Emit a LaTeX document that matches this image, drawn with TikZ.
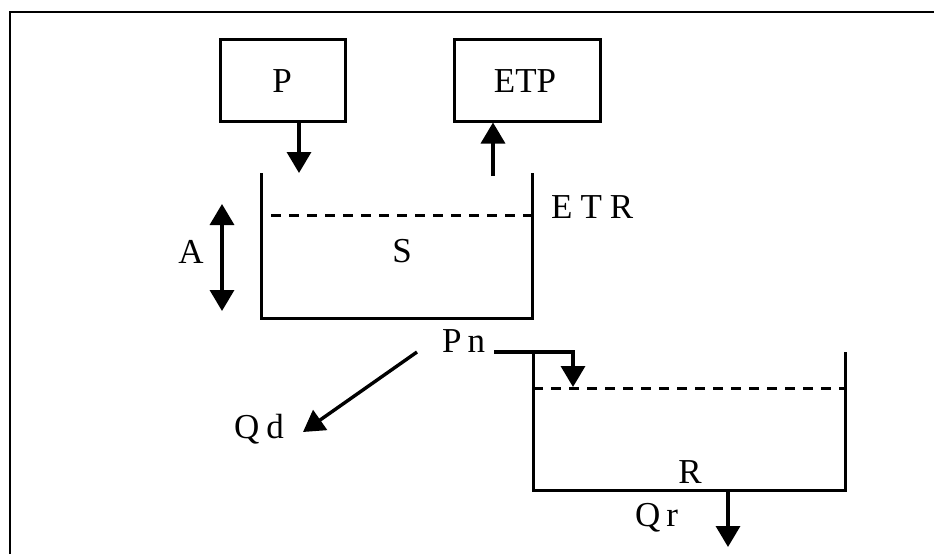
\documentclass[tikz,border=0pt]{standalone}
\usepackage{fontspec}
\setmainfont{Liberation Serif}
\usetikzlibrary{arrows.meta}
\begin{document}
\begin{tikzpicture}[x=1pt,y=-1pt,
  wall/.style={line width=3pt},
  boxnode/.style={draw,line width=3pt,inner sep=0pt},
  arr/.style={line width=3.4pt,-{Triangle[width=24pt,length=21pt]}},
  arrtwo/.style={line width=3.4pt,{Triangle[width=24pt,length=21pt]}-{Triangle[width=24pt,length=21pt]}},
  level/.style={line width=3pt,dash pattern=on 10pt off 8pt},
  lbl/.style={font=\fontsize{35}{38}\selectfont,inner sep=0pt,anchor=base}]
\useasboundingbox (0,0) rectangle (934,554);
% frame
\draw[line width=2.4pt] (10,554) -- (10,12) -- (934,12);
% boxes
\node[boxnode,minimum width=125pt,minimum height=82pt] (P) at (282.5,80) {};
\node[boxnode,minimum width=146pt,minimum height=82pt] (ETP) at (527,80) {};
\node[lbl] (Pt) at (282,92) {P};
\node[lbl] (ETPt) at (525,92) {ETP};
% tank S
\draw[wall] (261,173) -- (261,318) -- (532,318) -- (532,173);
\draw[level] (271,215) -- (532,215);
\node[lbl] (S) at (402,262) {S};
\node[lbl,anchor=base west] (ETR) at (551,218) {E\hspace{8pt}T\hspace{8pt}R};
% A
\coordinate (Atop) at (222,204);
\coordinate (Abot) at (222,311);
\draw[arrtwo] (Atop) -- (Abot);
\node[lbl] (A) at (191,263) {A};
% P and ETP arrows
\coordinate (pin) at (299,173);
\draw[arr] (P.south -| pin) -- (pin);
\coordinate (etpout) at (493,176);
\draw[arr] (etpout) -- (ETP.south -| etpout);
% Pn
\node[lbl,anchor=base west] (Pn) at (442,352) {P\hspace{6pt}n};
\coordinate (pnstart) at (494,352);
\coordinate (pncorner) at (573,352);
\coordinate (pnend) at (573,387);
\draw[arr] (pnstart) -- (pncorner) -- (pnend);
% Qd
\coordinate (qdstart) at (417,352);
\coordinate (qdend) at (303,432);
\draw[arr] (qdstart) -- (qdend);
\node[lbl,anchor=base west] (Qd) at (234,438) {Q\hspace{7pt}d};
% tank R
\draw[wall] (533,352) -- (533,490) -- (845,490) -- (845,352);
\draw[level] (533,388) -- (845,388);
\node[lbl] (R) at (690,483) {R};
% Qr
\coordinate (qrstart) at (728,490);
\coordinate (qrend) at (728,547);
\draw[arr] (qrstart) -- (qrend);
\node[lbl,anchor=base west] (Qr) at (635,526) {Q\hspace{6pt}r};
\end{tikzpicture}
\end{document}
